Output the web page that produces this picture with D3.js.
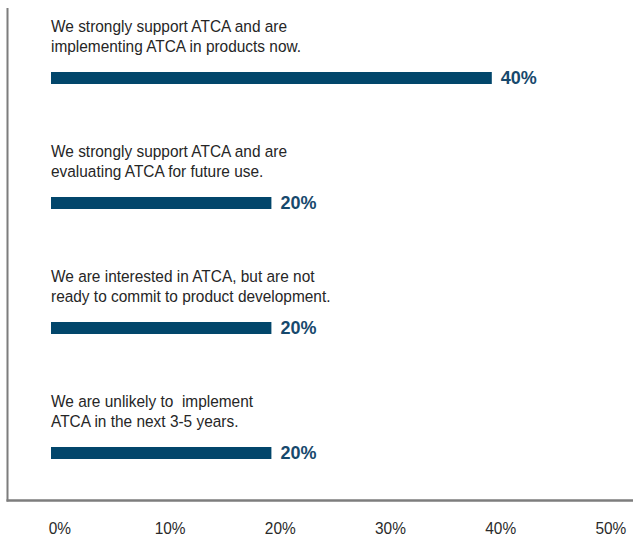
<!DOCTYPE html>
<html>
<head>
<meta charset="utf-8">
<script src="https://cdn.jsdelivr.net/npm/d3@7"></script>
<style>
  html, body { margin: 0; padding: 0; background: #ffffff; }
  svg { display: block; }
</style>
</head>
<body>
<svg id="chart" width="633" height="537"></svg>
<script>
// Survey responses about ATCA adoption
const categories = [
  ["We strongly support ATCA and are", "implementing ATCA in products now."],
  ["We strongly support ATCA and are", "evaluating ATCA for future use."],
  ["We are interested in ATCA, but are not", "ready to commit to product development."],
  ["We are unlikely to  implement", "ATCA in the next 3-5 years."]
];
const values = [40, 20, 20, 20];
const tickValues = [0, 10, 20, 30, 40, 50];

const svg = d3.select("#chart");
const W = 633, H = 537;
const sans = "'Liberation Sans', Arial, Helvetica, sans-serif";
const barColor = "#02466b";
const condense = 0.93;   // horizontal squeeze for the narrow label face

const x = d3.scaleLinear().domain([0, 50]).range([51, 602]);
const y = d3.scaleBand().domain(d3.range(categories.length)).range([15, 515]).paddingInner(0);
const barH = 12;
// bar top within each band
const barTop = i => y(i) + y.bandwidth() / 2 - 5.5;

// frame: left and bottom rules
svg.append("line")
  .attr("x1", 7.5).attr("x2", 7.5).attr("y1", 8).attr("y2", 501.5)
  .attr("stroke", "#7d7d7d").attr("stroke-width", 2);
svg.append("line")
  .attr("x1", 6.5).attr("x2", W).attr("y1", 500.5).attr("y2", 500.5)
  .attr("stroke", "#7d7d7d").attr("stroke-width", 2.5);

const g = svg.append("g");
const rows = g.selectAll("g.row").data(values).join("g").attr("class", "row");

rows.append("rect")
  .attr("x", x(0))
  .attr("y", (d, i) => barTop(i))
  .attr("width", d => x(d) - x(0))
  .attr("height", barH)
  .attr("fill", barColor);

rows.append("text")
  .attr("x", d => x(d) + 9)
  .attr("y", (d, i) => barTop(i) + barH - 0.5)
  .attr("font-family", sans)
  .attr("font-weight", "bold")
  .attr("font-size", 18)
  .attr("fill", "#17496d")
  .text(d => d + "%");

rows.each(function (d, i) {
  const t = d3.select(this).append("text")
    .attr("transform", `translate(${x(0)},0) scale(${condense},1)`)
    .attr("font-family", sans)
    .attr("font-size", 16.6)
    .attr("fill", "#262626");
  categories[i].forEach((line, k) => {
    t.append("tspan")
      .attr("x", 0)
      .attr("y", barTop(i) - 40 + k * 20)
      .attr("xml:space", "preserve")
      .style("white-space", "pre")
      .text(line);
  });
});

// percentage axis along the bottom
const axis = d3.axisBottom(x)
  .tickValues(tickValues)
  .tickFormat(d => d + "%")
  .tickSize(0)
  .tickPadding(0);
const ax = svg.append("g")
  .attr("transform", "translate(0,534)")
  .call(axis);
ax.select(".domain").remove();
ax.selectAll(".tick text")
  .attr("dy", 0)
  .attr("x", 9)
  .attr("transform", `scale(${condense},1)`)
  .attr("font-family", sans)
  .attr("font-size", 16.6)
  .attr("fill", "#2a2a2a");
</script>
</body>
</html>
